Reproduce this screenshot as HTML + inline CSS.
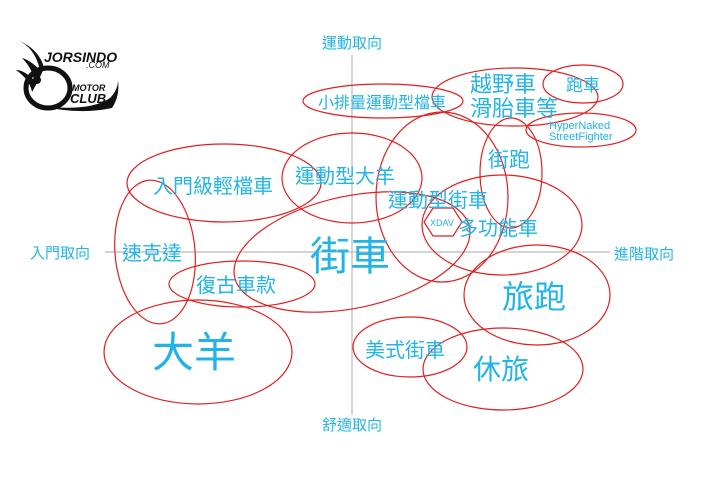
<!DOCTYPE html>
<html><head><meta charset="utf-8"><style>
html,body{margin:0;padding:0;background:#fff;}
svg{display:block;}
text{font-family:"Liberation Sans","Noto Sans CJK TC",sans-serif;fill:#22b4e6;}
</style></head><body>
<svg width="720" height="481" viewBox="0 0 720 481" xmlns="http://www.w3.org/2000/svg">
<!-- logo -->
<g>
<path d="M18 40 Q35 48 40 70 Q30 60 22 58 Q32 68 34 80 Q24 70 16 70 Q30 80 32 92 Q40 78 44 68 Q40 50 18 40Z" fill="#111"/>
<ellipse cx="48" cy="88" rx="22" ry="20" fill="none" stroke="#111" stroke-width="5"/>
<circle cx="37" cy="80" r="4" fill="#111"/>
<path d="M40 106 Q90 112 110 98 Q118 90 118 80 Q120 96 112 108 Q80 115 40 106Z" fill="#111"/>
<text x="44" y="62" style="fill:#111;font-style:italic;font-weight:bold;font-size:14px">JORSINDO</text>
<text x="86" y="68" style="fill:#111;font-style:italic;font-size:9px">.COM</text>
<text x="72" y="91" style="fill:#111;font-style:italic;font-weight:bold;font-size:9px">MOTOR</text>
<text x="70" y="103" style="fill:#111;font-style:italic;font-weight:bold;font-size:13px">CLUB</text>
</g>
<!-- axes -->
<line x1="352" y1="55" x2="352" y2="415" stroke="#bbb" stroke-width="1.2"/>
<line x1="105" y1="252" x2="610" y2="252" stroke="#bbb" stroke-width="1.2"/>
<g fill="none" stroke="#e02020" stroke-width="1.2">
<ellipse cx="383" cy="101" rx="80" ry="17"/>
<ellipse cx="515" cy="97" rx="83" ry="29"/>
<ellipse cx="583" cy="84" rx="40" ry="19"/>
<ellipse cx="581" cy="130" rx="55" ry="17"/>
<ellipse cx="511" cy="173" rx="31" ry="55"/>
<ellipse cx="442" cy="197" rx="66" ry="85"/>
<ellipse cx="502" cy="225" rx="80" ry="50"/>
<ellipse cx="352" cy="252" rx="120" ry="56" transform="rotate(-12 352 252)"/>
<ellipse cx="352" cy="178" rx="70" ry="45"/>
<ellipse cx="224" cy="183" rx="97" ry="39"/>
<ellipse cx="155" cy="252" rx="40" ry="72" transform="rotate(-5 155 252)"/>
<ellipse cx="242" cy="284" rx="73" ry="23"/>
<ellipse cx="198" cy="352" rx="94" ry="52"/>
<ellipse cx="537" cy="295" rx="73" ry="50"/>
<ellipse cx="410" cy="347" rx="57" ry="30"/>
<ellipse cx="503" cy="369" rx="80" ry="41"/>
<polygon points="424,222 433,208 453,208 462,222 453,236 433,236"/>
</g>
<g>
<text x="352" y="48" font-size="15" text-anchor="middle">運動取向</text>
<text x="30" y="258" font-size="15">入門取向</text>
<text x="614" y="259" font-size="15">進階取向</text>
<text x="352" y="430" font-size="15" text-anchor="middle">舒適取向</text>
<text x="318" y="108" font-size="16">小排量運動型檔車</text>
<text x="470" y="92" font-size="22">越野車</text>
<text x="470" y="116" font-size="22">滑胎車等</text>
<text x="566" y="91" font-size="17">跑車</text>
<text x="549" y="129" font-size="11">HyperNaked</text>
<text x="549" y="140" font-size="11">StreetFighter</text>
<text x="488" y="167" font-size="21">街跑</text>
<text x="295" y="183" font-size="20">運動型大羊</text>
<text x="153" y="193" font-size="20">入門級輕檔車</text>
<text x="388" y="207" font-size="20">運動型街車</text>
<text x="430" y="226" font-size="9">XDAV</text>
<text x="458" y="235" font-size="20">多功能車</text>
<text x="350" y="270" font-size="40" text-anchor="middle">街車</text>
<text x="122" y="260" font-size="20">速克達</text>
<text x="196" y="292" font-size="20">復古車款</text>
<text x="152" y="367" font-size="42">大羊</text>
<text x="502" y="308" font-size="32">旅跑</text>
<text x="365" y="357" font-size="20">美式街車</text>
<text x="473" y="379" font-size="28">休旅</text>
</g>
</svg>
</body></html>
